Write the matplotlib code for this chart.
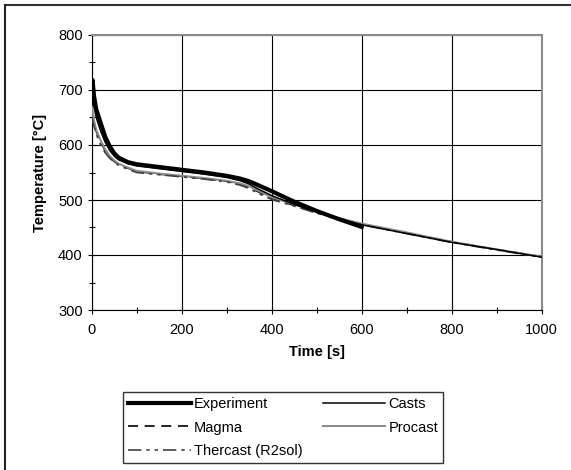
import matplotlib.pyplot as plt
from matplotlib.lines import Line2D

plt.rcParams['font.family'] = ['Liberation Sans', 'DejaVu Sans']

t_exp = [0, 2, 5, 10, 20, 30, 40, 50, 60, 80, 100, 150, 200, 250, 300, 330, 350, 370, 400, 450, 500, 550, 600]
experiment = [690, 718, 690, 665, 640, 615, 598, 585, 577, 569, 565, 560, 555, 550, 544, 539, 534, 527, 516, 497, 480, 465, 451]

t_sim = [0, 5, 10, 20, 30, 40, 50, 60, 80, 100, 150, 200, 250, 300, 330, 350, 370, 400, 450, 500, 550, 600, 700, 800, 900, 1000]
casts = [700, 670, 650, 625, 605, 590, 580, 573, 566, 562, 557, 552, 547, 541, 535, 529, 520, 508, 492, 478, 466, 455, 439, 423, 410, 396]
magma = [660, 640, 625, 605, 590, 578, 570, 565, 558, 552, 547, 543, 539, 534, 529, 523, 515, 503, 490, 477, 466, 456, 440, 424, 410, 397]
procast = [670, 645, 628, 608, 592, 580, 572, 566, 559, 553, 548, 544, 540, 535, 530, 525, 517, 505, 492, 479, 467, 457, 441, 424, 410, 397]
thercast = [650, 635, 620, 600, 586, 576, 569, 563, 556, 550, 546, 542, 538, 533, 527, 521, 512, 501, 489, 476, 465, 455, 439, 423, 409, 396]

fig = plt.figure(figsize=(5.71, 4.70), dpi=100)
ax = fig.add_axes([91.7 / 571, 1 - 310 / 470, 450 / 571, 275 / 470])

# outer frame (top and left edges)
fig.add_artist(Line2D([5 / 571, 1], [1 - 5 / 470, 1 - 5 / 470], color='#333333', lw=1.5, transform=fig.transFigure))
fig.add_artist(Line2D([5 / 571, 5 / 571], [0, 1 - 5 / 470], color='#222222', lw=1.5, transform=fig.transFigure))

l_exp, = ax.plot(t_exp, experiment, color='black', lw=3, label='Experiment', zorder=5)
l_casts, = ax.plot(t_sim, casts, color='black', lw=1.1, label='Casts', zorder=4)
l_magma, = ax.plot(t_sim, magma, color='black', lw=1.2, ls=(0, (6, 4)), label='Magma', zorder=3)
l_pro, = ax.plot(t_sim, procast, color='#8c8c8c', lw=1.5, label='Procast', zorder=3)
l_ther, = ax.plot(t_sim, thercast, color='#404040', lw=1.2, ls=(0, (8, 3, 2, 3, 2, 3)), label='Thercast (R2sol)', zorder=3)

ax.set_xlim(0, 1000)
ax.set_ylim(300, 800)
ax.set_xticks(range(0, 1001, 200))
ax.set_xticks(range(0, 1001, 100), minor=True)
ax.set_yticks(range(300, 801, 100))
ax.set_yticks(range(300, 801, 50), minor=True)
ax.grid(True, which='major', color='black', lw=0.8)
ax.set_axisbelow(True)

for s in ['top', 'right']:
    ax.spines[s].set_color('#8c8c8c')
    ax.spines[s].set_linewidth(1.5)
for s in ['left', 'bottom']:
    ax.spines[s].set_color('black')
    ax.spines[s].set_linewidth(0.8)

ax.tick_params(which='both', direction='inout', length=6, width=0.8, labelsize=10.5)
ax.tick_params(which='minor', length=5)
ax.tick_params(axis='x', pad=6)

ax.set_xlabel('Time [s]', fontsize=10.5, fontweight='bold', labelpad=6)
ax.set_ylabel('Temperature [°C]', fontsize=10.5, fontweight='bold', labelpad=8)

# column-first fill, so this order gives rows: Experiment/Casts, Magma/Procast, Thercast
handles = [l_exp, l_magma, l_ther, l_casts, l_pro]
fig.legend(handles=handles, loc='upper left', bbox_to_anchor=(123 / 571, 1 - 392 / 470),
           ncol=2, frameon=True, fontsize=10.5, handlelength=4.3, handletextpad=0.2,
           columnspacing=1.4, borderpad=0.35, labelspacing=0.65, fancybox=False,
           edgecolor='black', borderaxespad=0)

fig.savefig('out.png', dpi=100)
